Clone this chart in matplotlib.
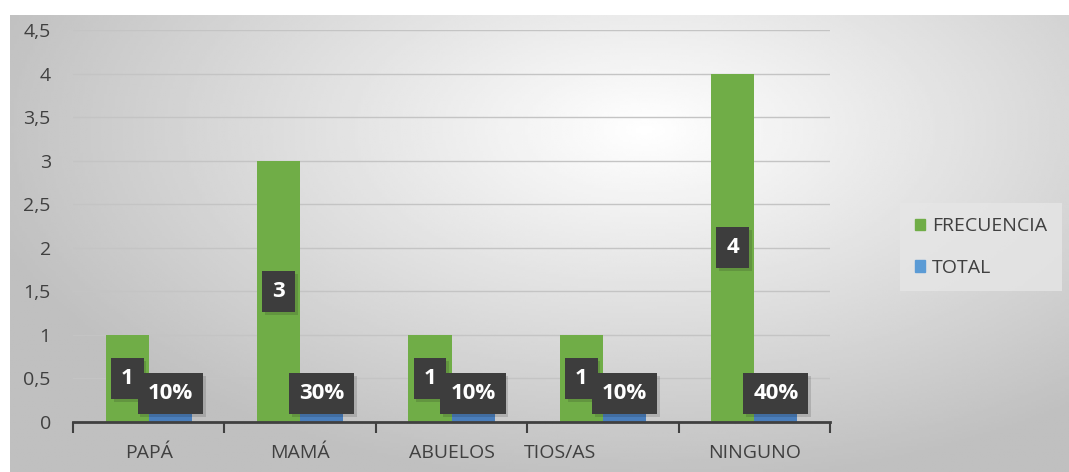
import numpy as np
import matplotlib.pyplot as plt
from matplotlib.ticker import FuncFormatter, MultipleLocator
from matplotlib.patches import Patch
import matplotlib.patheffects as pe
import matplotlib.transforms as mtransforms

plt.rcParams['font.family'] = ['Open Sans', 'DejaVu Sans']

categories = ['PAPÁ', 'MAMÁ', 'ABUELOS', 'TIOS/AS', 'NINGUNO']
frecuencia = [1, 3, 1, 1, 4]
total = [0.1, 0.3, 0.1, 0.1, 0.4]
total_labels = ['10%', '30%', '10%', '10%', '40%']

green = '#70ad47'
blue = '#4a7ebb'

fig = plt.figure(figsize=(10.69, 4.72), dpi=100)

# background frame with radial gradient
bg = fig.add_axes([10 / 1069, 0, 1 - 10 / 1069, (472 - 15) / 472])
yy, xx = np.mgrid[0:1:200j, 0:1:400j]
r = np.sqrt(((xx - 0.6) / 0.7) ** 2 + ((yy - 0.75) / 0.85) ** 2)
shade = np.clip(1 - 0.27 * r, 0.75, 1.0)
bg.imshow(shade, cmap='gray', vmin=0, vmax=1, aspect='auto', extent=[0, 1, 0, 1], origin='lower')
bg.set_axis_off()

ax = fig.add_axes([73 / 1069, 50 / 472, (830 - 73) / 1069, (422 - 30) / 472])
ax.patch.set_alpha(0)

x = np.arange(len(categories))
w = 0.285
ax.bar(x - w / 2, frecuencia, w, color=green, zorder=3)
ax.bar(x + w / 2, total, w, color=blue, zorder=3)

box = dict(boxstyle='square,pad=0.45', facecolor='#3d3d3d', edgecolor='none')
shadow = [pe.SimplePatchShadow(offset=(2, -2), alpha=0.15), pe.Normal()]
for i in range(len(categories)):
    t1 = ax.text(x[i] - w / 2, frecuencia[i] / 2, str(frecuencia[i]), color='white',
                 fontsize=16, fontweight='bold', ha='center', va='center', bbox=box, zorder=5)
    t2 = ax.text(x[i] + w / 2, 0.33, total_labels[i], color='white',
                 fontsize=16, fontweight='bold', ha='center', va='center', bbox=box, zorder=6)
    for t in (t1, t2):
        t.get_bbox_patch().set_path_effects(shadow)

ax.set_xlim(-0.5, len(categories) - 0.5)
ax.set_ylim(0, 4.5)
ax.yaxis.set_major_locator(MultipleLocator(0.5))
ax.yaxis.set_major_formatter(FuncFormatter(lambda v, p: ('%g' % v).replace('.', ',')))
ax.grid(axis='y', color='#c4c4c4', linewidth=1, zorder=0)
for s in ['left', 'right', 'top']:
    ax.spines[s].set_visible(False)
ax.spines['bottom'].set_color('#404040')
ax.spines['bottom'].set_linewidth(2)
ax.spines['bottom'].set_zorder(4)

ax.set_xticks(np.arange(-0.5, len(categories), 1.0))
ax.set_xticklabels([])
ax.tick_params(axis='x', length=8, width=1.5, color='#404040')
ax.set_xticks(x, minor=True)
ax.set_xticklabels(categories, minor=True, fontsize=14, color='#404040')
ax.tick_params(axis='x', which='minor', length=0, pad=16)
ax.tick_params(axis='y', length=0, labelsize=14, labelcolor='#404040', pad=16)

# TIOS/AS label sits left of its category centre in the reference
lbl = ax.get_xticklabels(minor=True)[3]
lbl.set_transform(lbl.get_transform() + mtransforms.ScaledTranslation(-0.43, 0, fig.dpi_scale_trans))

handles = [Patch(color=green, label='FRECUENCIA'), Patch(color='#5b9bd5', label='TOTAL')]
leg = fig.legend(handles=handles, loc='center left', bbox_to_anchor=(900 / 1069, 1 - 247 / 472),
                 frameon=True, fontsize=14, handlelength=0.55, handleheight=0.55,
                 handletextpad=0.35, labelspacing=1.2, borderpad=0.75, borderaxespad=0,
                 fancybox=False)
leg.get_frame().set_facecolor('#e6e6e6')
leg.get_frame().set_edgecolor('none')
for t in leg.get_texts():
    t.set_color('#404040')

fig.savefig('out.png', dpi=100)
